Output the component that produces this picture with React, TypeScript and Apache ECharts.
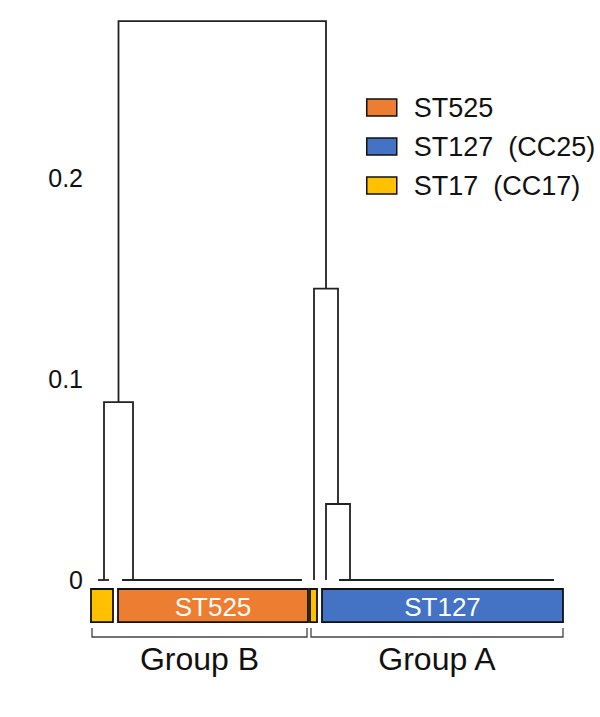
import React, { useEffect, useRef } from "react";
import * as echarts from "echarts";

// ---- data ----
const yTickValues = [0, 0.1, 0.2];
const yMax = 0.28;
const xMax = 472;

// dendrogram merges (leaf-order position, height)
const mergeLeftX = [27.5, 13, 223, 235];
const mergeRightX = [235, 42, 247, 259];
const mergeHeight = [0.278, 0.0885, 0.145, 0.0378];
const mergeLeftChildHeight = [0.0885, 0, 0, 0];
const mergeRightChildHeight = [0.145, 0, 0.0378, 0];

// leaf clusters at height 0
const leafStart = [7, 31, 248];
const leafEnd = [18, 211, 463];

// sequence types
const stNames = ["ST525", "ST127  (CC25)", "ST17  (CC17)"];
const stColors = ["#ED7D31", "#4472C4", "#FFC000"];

// colour bar segments
const barStart = [0, 27, 219, 231];
const barEnd = [22, 217, 226, 472];
const barType = [2, 0, 2, 1];
const barText = ["", "ST525", "", "ST127"];

// groups
const groupNames = ["Group B", "Group A"];
const groupStart = [1, 220];
const groupEnd = [216, 472];

const FONT = "'Liberation Sans', Arial, Helvetica, sans-serif";
const LINE = "#222";

function buildOption(): any {
  const mergeData = mergeLeftX.map((x, i) => [
    x,
    mergeRightX[i],
    mergeHeight[i],
    mergeLeftChildHeight[i],
    mergeRightChildHeight[i],
  ]);
  const leafData = leafStart.map((s, i) => [s, leafEnd[i], 0]);
  const groupData = groupNames.map((_, i) => [groupStart[i], groupEnd[i], i]);

  const barSeries = stNames.map((name, t) => ({
    type: "custom",
    name,
    xAxisIndex: 1,
    yAxisIndex: 1,
    itemStyle: { color: stColors[t], borderColor: "#111", borderWidth: 1.5 },
    encode: { x: [0, 1] },
    data: barStart
      .map((s, i) => [s, barEnd[i], i])
      .filter((row) => barType[row[2]] === t),
    renderItem: (params: any, api: any) => {
      const s = api.value(0);
      const e = api.value(1);
      const idx = api.value(2);
      const p0 = api.coord([s, 0]);
      const p1 = api.coord([e, 0.69]);
      const children: any[] = [
        {
          type: "rect",
          shape: { x: p0[0], y: p0[1], width: p1[0] - p0[0], height: p1[1] - p0[1] },
          style: { fill: stColors[t], stroke: "#111", lineWidth: 1.8 },
        },
      ];
      if (barText[idx]) {
        children.push({
          type: "text",
          x: (p0[0] + p1[0]) / 2,
          y: (p0[1] + p1[1]) / 2 + 1,
          style: {
            text: barText[idx],
            fill: "#fff",
            fontSize: 26,
            fontFamily: FONT,
            align: "center",
            verticalAlign: "middle",
          },
        });
      }
      return { type: "group", children };
    },
  }));

  return {
    animation: false,
    backgroundColor: "#fff",
    grid: [
      { left: 91, width: 472, top: 17.2, height: 562.8 },
      { left: 91, width: 472, top: 589, height: 48 },
    ],
    xAxis: [
      { type: "value", gridIndex: 0, min: 0, max: xMax, show: false },
      { type: "value", gridIndex: 1, min: 0, max: xMax, show: false },
    ],
    yAxis: [
      {
        type: "value",
        gridIndex: 0,
        min: 0,
        max: yMax,
        interval: 0.1,
        axisLine: { show: false },
        axisTick: { show: false },
        splitLine: { show: false },
        axisLabel: {
          margin: 8,
          fontSize: 25,
          color: "#111",
          fontFamily: FONT,
          showMaxLabel: false,
          formatter: (v: number) =>
            yTickValues.some((t) => Math.abs(t - v) < 1e-9) ? String(v) : "",
        },
      },
      { type: "value", gridIndex: 1, min: 0, max: 1, inverse: true, show: false },
    ],
    legend: {
      data: stNames,
      orient: "vertical",
      left: 366,
      top: 94,
      padding: 0,
      itemWidth: 30,
      itemHeight: 17,
      itemGap: 12,
      icon: "rect",
      selectedMode: false,
      itemStyle: { borderColor: "#111", borderWidth: 1.5 },
      textStyle: { fontSize: 27, color: "#111", fontFamily: FONT, padding: [0, 0, 0, 12] },
    },
    series: [
      {
        type: "custom",
        name: "dendrogram",
        xAxisIndex: 0,
        yAxisIndex: 0,
        encode: { x: [0, 1], y: [2, 3, 4] },
        data: mergeData,
        renderItem: (params: any, api: any) => {
          const xl = api.value(0);
          const xr = api.value(1);
          const h = api.value(2);
          const hl = api.value(3);
          const hr = api.value(4);
          return {
            type: "polyline",
            shape: {
              points: [api.coord([xl, hl]), api.coord([xl, h]), api.coord([xr, h]), api.coord([xr, hr])],
            },
            style: { stroke: LINE, lineWidth: 1.8, fill: null },
          };
        },
      },
      {
        type: "custom",
        name: "leaves",
        xAxisIndex: 0,
        yAxisIndex: 0,
        encode: { x: [0, 1], y: 2 },
        data: leafData,
        renderItem: (params: any, api: any) => {
          const a = api.coord([api.value(0), api.value(2)]);
          const b = api.coord([api.value(1), api.value(2)]);
          return {
            type: "line",
            shape: { x1: a[0], y1: a[1], x2: b[0], y2: b[1] },
            style: { stroke: LINE, lineWidth: 1.8 },
          };
        },
      },
      ...barSeries,
      {
        type: "custom",
        name: "groups",
        xAxisIndex: 1,
        yAxisIndex: 1,
        encode: { x: [0, 1] },
        data: groupData,
        renderItem: (params: any, api: any) => {
          const s = api.value(0);
          const e = api.value(1);
          const idx = api.value(2);
          const a = api.coord([s, 0.81]);
          const b = api.coord([e, 1]);
          return {
            type: "group",
            children: [
              {
                type: "polyline",
                shape: { points: [[a[0], a[1]], [a[0], b[1]], [b[0], b[1]], [b[0], a[1]]] },
                style: { stroke: "#444", lineWidth: 1.3, fill: null },
              },
              {
                type: "text",
                x: (a[0] + b[0]) / 2,
                y: b[1] + 22,
                style: {
                  text: groupNames[idx],
                  fill: "#111",
                  fontSize: 32,
                  fontFamily: FONT,
                  align: "center",
                  verticalAlign: "middle",
                },
              },
            ],
          };
        },
      },
    ],
  };
}

export default function App() {
  const ref = useRef<HTMLDivElement>(null);
  useEffect(() => {
    if (!ref.current) return;
    const chart = echarts.init(ref.current, null, { renderer: "svg" });
    chart.setOption(buildOption());
    return () => chart.dispose();
  }, []);
  return (
    <div
      ref={ref}
      style={{ position: "absolute", left: 0, top: 0, width: 600, height: 717, background: "#fff" }}
    />
  );
}
